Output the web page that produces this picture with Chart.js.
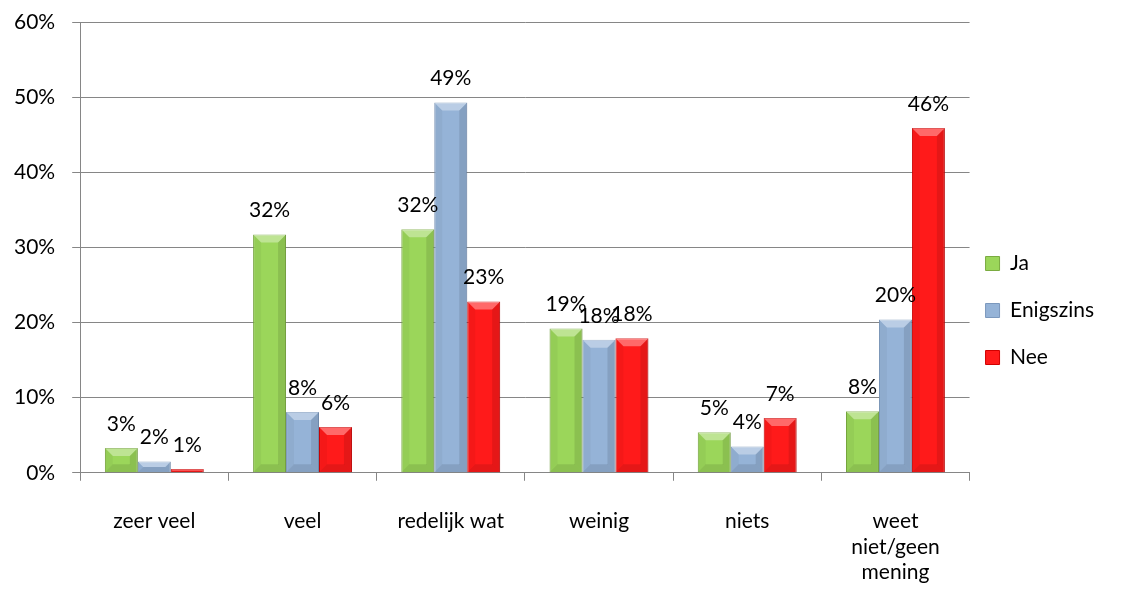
<!DOCTYPE html>
<html>
<head>
<meta charset="utf-8">
<script src="https://cdn.jsdelivr.net/npm/chart.js@4/dist/chart.umd.min.js"></script>
<style>
    html, body { margin: 0; padding: 0; background: #fff; }
    #wrap { width: 1147px; height: 591px; position: relative; }
</style>
</head>
<body>
<div id="wrap"><canvas id="chart"></canvas></div>
<script>
(function () {
    'use strict';

    const categories = ['zeer veel', 'veel', 'redelijk wat', 'weinig', 'niets', ['weet', 'niet/geen', 'mening']];
    const seriesNames = ['Ja', 'Enigszins', 'Nee'];
    const ja        = [3.3, 31.7, 32.4, 19.2, 5.4, 8.2];
    const enigszins = [1.5, 8.1, 49.3, 17.7, 3.5, 20.4];
    const nee       = [0.5, 6.1, 22.8, 17.9, 7.3, 45.9];
    const yTicks    = [0, 10, 20, 30, 40, 50, 60];

    const FONT = 'Lato, "Open Sans", sans-serif';
    const fills   = ['#9bd65a', '#95b3d7', '#ff1a1a'];
    const borders = ['#7aab40', '#7b98bd', '#d00000'];

    // bevel shading on the bars, then the value labels above them
    const barLabels = {
        id: 'barLabels',
        afterDatasetsDraw(chart) {
            const ctx = chart.ctx;
            ctx.save();
            chart.data.datasets.forEach((ds, i) => {
                chart.getDatasetMeta(i).data.forEach(bar => {
                    const l = bar.x - bar.width / 2, r = bar.x + bar.width / 2;
                    const t = bar.y, b = bar.base;
                    const bv = Math.min(8, (b - t) / 2);
                    const poly = (pts, fill) => {
                        ctx.beginPath();
                        ctx.moveTo(pts[0][0], pts[0][1]);
                        pts.slice(1).forEach(p => ctx.lineTo(p[0], p[1]));
                        ctx.closePath();
                        ctx.fillStyle = fill;
                        ctx.fill();
                    };
                    poly([[l, t], [r, t], [r - bv, t + bv], [l + bv, t + bv]], 'rgba(255,255,255,0.35)');
                    poly([[l, b], [r, b], [r - bv, b - bv], [l + bv, b - bv]], 'rgba(0,0,0,0.10)');
                    poly([[l, t], [l + bv, t + bv], [l + bv, b - bv], [l, b]], 'rgba(0,0,0,0.04)');
                    poly([[r, t], [r - bv, t + bv], [r - bv, b - bv], [r, b]], 'rgba(0,0,0,0.10)');
                });
            });
            ctx.font = '21px ' + FONT;
            ctx.fillStyle = '#000';
            ctx.textAlign = 'center';
            ctx.textBaseline = 'middle';
            chart.data.datasets.forEach((ds, i) => {
                chart.getDatasetMeta(i).data.forEach((bar, j) => {
                    ctx.fillText(Math.round(ds.data[j]) + '%', bar.x, bar.y - 24);
                });
            });
            ctx.restore();
        }
    };

    // nudge the legend box a little (up / left) like the original
    const legendNudge = {
        id: 'legendNudge',
        afterLayout(chart) {
            const lg = chart.legend;
            if (!lg) return;
            lg.top -= 7; lg.bottom -= 7;
            lg.left -= 10; lg.right -= 10;
        }
    };

    new Chart(document.getElementById('chart'), {
        type: 'bar',
        data: {
            labels: categories,
            datasets: [ja, enigszins, nee].map((d, i) => ({
                label: seriesNames[i],
                data: d,
                backgroundColor: fills[i],
                borderColor: borders[i],
                borderWidth: 1,
                categoryPercentage: 0.667,
                barPercentage: 1,
            })),
        },
        options: {
            responsive: true,
            maintainAspectRatio: false,
            animation: false,
            layout: { padding: { top: 22, left: -3, right: 33, bottom: -22 } },
            plugins: {
                legend: {
                    position: 'right',
                    labels: {
                        font: { family: FONT, size: 21 },
                        color: '#000',
                        boxWidth: 14,
                        boxHeight: 14,
                        padding: 26,
                    },
                },
                tooltip: { enabled: false },
            },
            scales: {
                x: {
                    grid: { display: true, drawOnChartArea: false, offset: true, tickLength: 8, color: '#868686' },
                    border: { color: '#868686' },
                    ticks: { font: { family: FONT, size: 21, lineHeight: 1.21 }, color: '#000', padding: 28, maxRotation: 0 },
                },
                y: {
                    min: 0,
                    max: 60,
                    afterBuildTicks: axis => { axis.ticks = yTicks.map(v => ({ value: v })); },
                    afterFit: axis => { axis.paddingTop = 0; },
                    grid: { color: '#868686', tickLength: 8 },
                    border: { color: '#868686' },
                    ticks: { font: { family: FONT, size: 21 }, color: '#000', padding: 17, callback: v => v + '%' },
                },
            },
        },
        plugins: [barLabels, legendNudge],
    });
})();
</script>
</body>
</html>
